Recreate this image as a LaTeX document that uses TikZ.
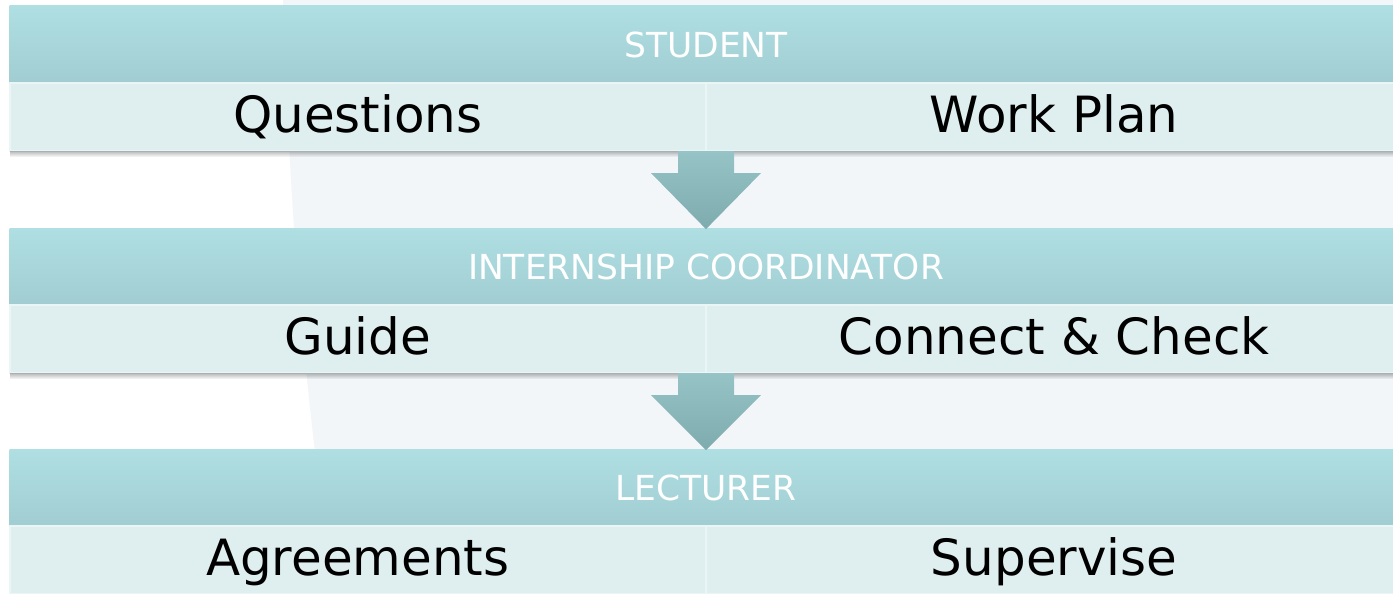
\documentclass[tikz,border=0pt]{standalone}
\usepackage{fontspec}
\setmainfont{DejaVu Sans}
\usetikzlibrary{positioning,calc,fadings}

\definecolor{hdtop}{HTML}{AFDFE3}
\definecolor{hdbot}{HTML}{A1CDD2}
\definecolor{cellbg}{HTML}{DFEEEF}
\definecolor{cellline}{HTML}{EAF5F6}
\definecolor{arrtop}{HTML}{96C3C6}
\definecolor{arrbot}{HTML}{7EABAE}
\definecolor{panel}{HTML}{F2F6F9}

\tikzset{
  header/.style={rectangle, inner sep=0pt, outer sep=0pt, minimum width=13.92cm, minimum height=0.77cm,
    top color=hdtop, middle color=hdtop, bottom color=hdbot, text=white,
    text height=7.2pt, text depth=0pt, font=\fontsize{9.8}{12}\selectfont},
  cell/.style={rectangle, inner sep=0pt, outer sep=0pt, minimum width=6.96cm, minimum height=0.68cm,
    fill=cellbg, draw=cellline, line width=0.6pt, text height=10.4pt, text depth=1.6pt,
    font=\fontsize{14.2}{17}\selectfont},
  bandshadow/.style={black, opacity=0.28, path fading=south},
  flowarrow/.style={top color=arrtop, bottom color=arrbot}
}

\begin{document}
\begin{tikzpicture}[x=0.01cm, y=0.01cm]
    \useasboundingbox (0,0) rectangle (1393,594);
    \fill[white] (0,0) rectangle (1393,594);
    \fill[panel] (283,594) .. controls (292,330) and (305,220) .. (332,0) -- (1393,0) -- (1393,594) -- cycle;

    % student band
    \node[header] (student) at (706,549.5) {STUDENT};
    \node[cell, below right=0 of student.south west] (questions) {Questions};
    \node[cell, right=0 of questions] (workplan) {Work Plan};

    % coordinator band
    \node[header, below=0.77cm of questions.south east] (coord) {INTERNSHIP COORDINATOR};
    \node[cell, below right=0 of coord.south west] (guide) {Guide};
    \node[cell, right=0 of guide] (connect) {Connect \& Check};

    % lecturer band
    \node[header, below=0.76cm of guide.south east] (lecturer) {LECTURER};
    \node[cell, below right=0 of lecturer.south west] (agree) {Agreements};
    \node[cell, right=0 of agree] (supervise) {Supervise};

    \foreach \l/\r in {questions/workplan, guide/connect, agree/supervise}
        \fill[bandshadow] (\l.south west) rectangle ($(\r.south east)+(0,-6)$);

    % arrows between the bands
    \foreach \a/\b in {questions/coord, guide/lecturer}
        \shade[flowarrow] ($(\a.south east)+(-28,0)$) -- ($(\a.south east)+(28,0)$)
            -- ($(\a.south east)+(28,-22)$) -- ($(\a.south east)+(55,-22)$)
            -- ($(\b.north)+(0,-1)$)
            -- ($(\a.south east)+(-55,-22)$) -- ($(\a.south east)+(-28,-22)$) -- cycle;
\end{tikzpicture}
\end{document}
